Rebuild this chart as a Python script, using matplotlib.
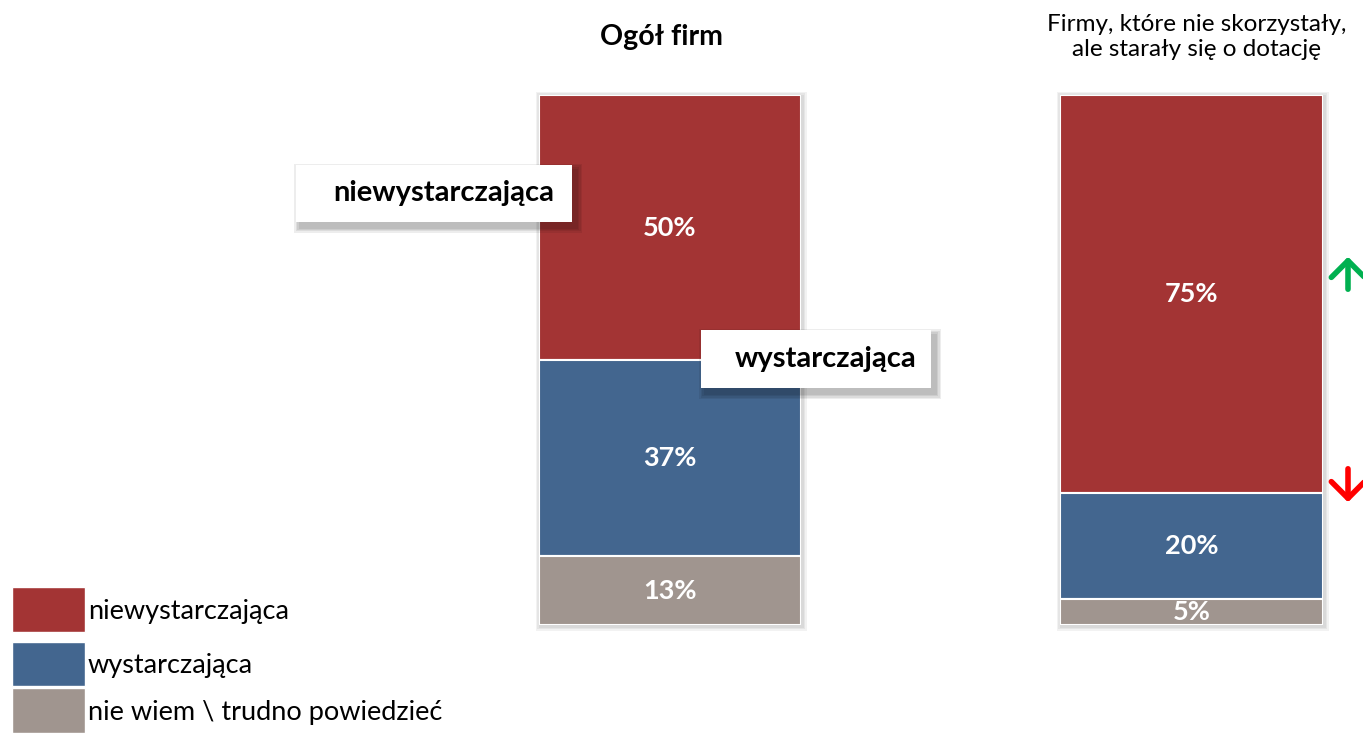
import matplotlib
matplotlib.use("Agg")
import matplotlib.pyplot as plt
from matplotlib.patches import Rectangle, FancyArrowPatch

plt.rcParams['font.family'] = ['Lato', 'DejaVu Sans']

categories = ['niewystarczająca', 'wystarczająca', 'nie wiem \\ trudno powiedzieć']
colors = ['#A33434', '#43668F', '#A0958F']
groups = ['Ogół firm', 'Firmy, które nie skorzystały,\nale starały się o dotację']
values_all = [50, 37, 13]
values_tried = [75, 20, 5]
labels_all = ['50%', '37%', '13%']
labels_tried = ['75%', '20%', '5%']

W, H = 1363, 733
fig = plt.figure(figsize=(W / 100, H / 100), dpi=100)

def px(x0, y0, x1, y1):
    return [x0 / W, 1 - y1 / H, (x1 - x0) / W, (y1 - y0) / H]

def soft_shadow(x0, y0, x1, y1, dx, dy, layers, alpha, z):
    for i in range(layers, 0, -1):
        r = i * 1.5
        fig.patches.append(Rectangle(((x0 + dx - r) / W, 1 - (y1 + dy + r) / H),
                                     (x1 - x0 + 2 * r) / W, (y1 - y0 + 2 * r) / H,
                                     transform=fig.transFigure, facecolor='#000000',
                                     edgecolor='none', alpha=alpha, zorder=z))

def draw_bar(box, vals, labs):
    x0, y0, x1, y1 = box
    soft_shadow(x0, y0, x1, y1, 1, 1, 3, 0.05, -2)
    ax = fig.add_axes(px(*box))
    ax.patch.set_alpha(0)
    bottom = 100
    for v, c, l in zip(vals, colors, labs):
        bottom -= v
        ax.bar(0, v, bottom=bottom, width=1.0, color=c, edgecolor='white', linewidth=1.5)
        ax.text(0, bottom + v / 2, l, ha='center', va='center', color='white',
                fontsize=19.5, fontweight='bold')
    ax.set_xlim(-0.5, 0.5)
    ax.set_ylim(0, 100)
    ax.axis('off')
    return ax

ax1 = draw_bar((539, 95, 801, 625), values_all, labels_all)
ax2 = draw_bar((1060, 95, 1323, 625), values_tried, labels_tried)

fig.text(661 / W, 1 - 37 / H, groups[0], ha='center', va='center', fontsize=20.5, fontweight='bold')
fig.text(1197 / W, 1 - 37 / H, groups[1], ha='center', va='center', fontsize=17.5, linespacing=1.25)

# callout boxes
def callout(x0, y0, x1, y1, text):
    soft_shadow(x0, y0, x1, y1, 4, 5, 4, 0.07, 5)
    fig.patches.append(Rectangle((x0 / W, 1 - y1 / H), (x1 - x0) / W, (y1 - y0) / H,
                                 transform=fig.transFigure, facecolor='white',
                                 edgecolor='none', zorder=6))
    fig.text((x0 + x1) / 2 / W + 10 / W, 1 - (y0 + y1) / 2 / H, text, ha='center', va='center',
             fontsize=21, fontweight='bold', zorder=7)

callout(296, 165, 572, 222, categories[0])
callout(701, 330, 931, 388, categories[1])

# arrows
fig.add_artist(FancyArrowPatch((1348 / W, 1 - 292 / H), (1348 / W, 1 - 254 / H),
               transform=fig.transFigure, arrowstyle='->,head_length=0.6,head_width=0.6',
               color='#00B050', linewidth=4, mutation_scale=20))
fig.add_artist(FancyArrowPatch((1348 / W, 1 - 466 / H), (1348 / W, 1 - 505 / H),
               transform=fig.transFigure, arrowstyle='->,head_length=0.6,head_width=0.6',
               color='#FF0000', linewidth=4, mutation_scale=20))

# legend
leg_boxes = [(587, 632), (642, 686), (688, 733)]
for (y0, y1), c, lab in zip(leg_boxes, colors, categories):
    fig.patches.append(Rectangle((12 / W, 1 - y1 / H), 73 / W, (y1 - y0) / H,
                                 transform=fig.transFigure, facecolor=c, edgecolor='white', linewidth=1))
    fig.text(88 / W, 1 - ((y0 + y1) / 2 + 2) / H, lab, ha='left', va='center', fontsize=19.5)

fig.savefig('out.png', dpi=100)
